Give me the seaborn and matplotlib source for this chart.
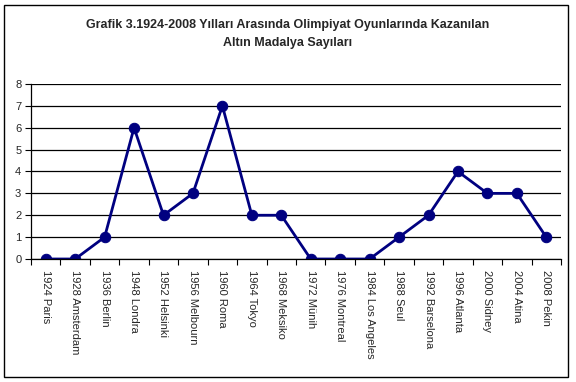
import matplotlib
matplotlib.use("Agg")
import matplotlib.pyplot as plt
import seaborn as sns
import pandas as pd
from matplotlib.patches import Rectangle

categories = ["1924 Paris", "1928 Amsterdam", "1936 Berlin", "1948 Londra", "1952 Helsinki",
              "1956 Melbourn", "1960 Roma", "1964 Tokyo", "1968 Meksiko", "1972 Münih",
              "1976 Montreal", "1984 Los Angeles", "1988 Seul", "1992 Barselona",
              "1996 Atlanta", "2000 Sidney", "2004 Atina", "2008 Pekin"]
medals = [0, 0, 1, 6, 2, 3, 7, 2, 2, 0, 0, 0, 1, 2, 4, 3, 3, 1]
yticks = [0, 1, 2, 3, 4, 5, 6, 7, 8]
title = "Grafik 3.1924-2008 Yılları Arasında Olimpiyat Oyunlarında Kazanılan\nAltın Madalya Sayıları"

sns.set_style("white")
plt.rcParams['font.family'] = ['Liberation Sans', 'DejaVu Sans']

df = pd.DataFrame({"x": range(len(categories)), "y": medals})

fig = plt.figure(figsize=(5.76, 3.82), dpi=100)
ax = fig.add_axes([31/576, 1-259/382, 530/576, 175/382])

sns.lineplot(data=df, x="x", y="y", ax=ax, color="#000080", linewidth=2.0,
             marker="o", markersize=7.5, markeredgecolor="#000080")

ax.set_xlim(-0.5, len(categories) - 0.5)
ax.set_ylim(0, 8)
ax.set_yticks(yticks)
ax.set_yticklabels([str(t) for t in yticks], fontsize=8)
ax.yaxis.grid(True, color="black", linewidth=0.9)
ax.set_axisbelow(True)

ax.set_xticks(range(len(categories)))
ax.set_xticklabels(categories, rotation=270, fontsize=8, va="top", ha="center")
ax.tick_params(axis="x", which="major", length=0, pad=8)
ax.set_xticks([i + 0.5 for i in range(-1, len(categories))], minor=True)
ax.tick_params(axis="x", which="minor", length=4, width=0.8, color="black", direction="out", bottom=True)
ax.tick_params(axis="y", length=4, width=0.8, color="black", direction="out", left=True, pad=3)

for side in ["top", "right"]:
    ax.spines[side].set_visible(False)
for side in ["left", "bottom"]:
    ax.spines[side].set_color("black")
    ax.spines[side].set_linewidth(0.9)

ax.set_xlabel("")
ax.set_ylabel("")

fig.text(0.5, 1 - 34/382, title, ha="center", va="center", fontsize=9,
         fontweight="bold", linespacing=1.6)

fig.patches.append(Rectangle((4/576, 5/382), 564/576, 372/382, transform=fig.transFigure,
                             fill=False, edgecolor="black", linewidth=1.0))

fig.savefig("out.png", dpi=100)
